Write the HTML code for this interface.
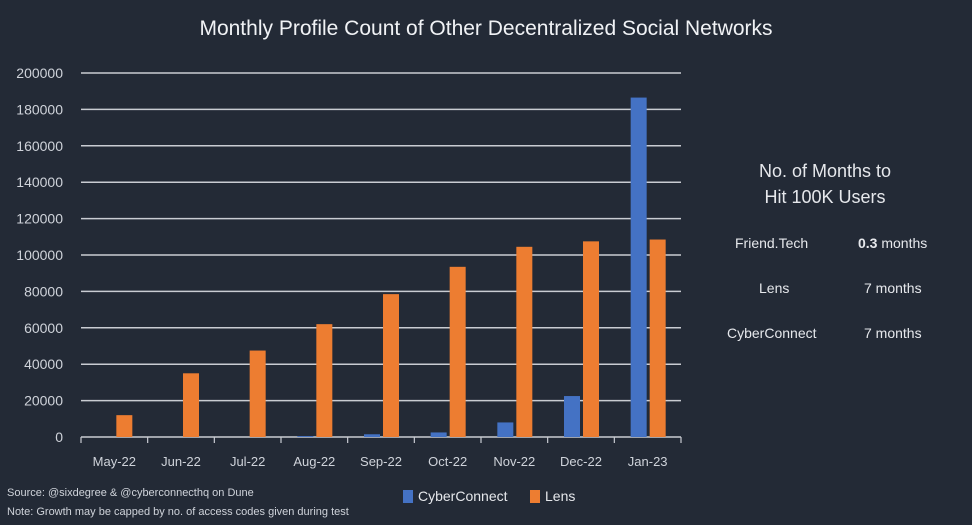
<!DOCTYPE html>
<html><head><meta charset="utf-8"><style>
html,body{margin:0;padding:0;background:#232a36;}
body{width:972px;height:525px;overflow:hidden;font-family:"Liberation Sans",sans-serif;color:#e6e8ec;position:relative}
.t{position:absolute;white-space:nowrap}
</style></head><body>
<div class="t" style="left:0;width:972px;text-align:center;top:17px;font-size:21px;color:#f0f2f5">Monthly Profile Count of Other Decentralized Social Networks</div>
<svg id="chart" width="972" height="525" style="position:absolute;left:0;top:0"></svg>
<div class="t" style="left:700px;width:250px;text-align:center;top:158px;font-size:18px;line-height:26px">No. of Months to<br>Hit 100K Users</div>
<div class="t" style="left:735px;top:235px;font-size:14px">Friend.Tech</div>
<div class="t" style="left:858px;top:235px;font-size:14px"><b>0.3</b> months</div>
<div class="t" style="left:759px;top:280px;font-size:14px">Lens</div>
<div class="t" style="left:864px;top:280px;font-size:14px">7 months</div>
<div class="t" style="left:727px;top:325px;font-size:14px">CyberConnect</div>
<div class="t" style="left:864px;top:325px;font-size:14px">7 months</div>
<div class="t" style="left:7px;top:487px;font-size:11px;color:#cfd3da">Source: @sixdegree &amp; @cyberconnecthq on Dune</div>
<div class="t" style="left:7px;top:506px;font-size:11px;color:#cfd3da">Note: Growth may be capped by no. of access codes given during test</div>
<div class="t" style="left:403px;top:488px;font-size:14px"><span style="display:inline-block;width:10px;height:13px;background:#4472c4;vertical-align:-2px;margin-right:5px"></span>CyberConnect</div>
<div class="t" style="left:530px;top:488px;font-size:14px"><span style="display:inline-block;width:10px;height:13px;background:#ed7d31;vertical-align:-2px;margin-right:5px"></span>Lens</div>
<script>
const categories=["May-22","Jun-22","Jul-22","Aug-22","Sep-22","Oct-22","Nov-22","Dec-22","Jan-23"];
const cyberValues=[0,0,0,500,1500,2500,8000,22500,186500];
const lensValues=[12000,35000,47500,62000,78500,93500,104500,107500,108500];
const yTicks=[0,20000,40000,60000,80000,100000,120000,140000,160000,180000,200000];
const NS="http://www.w3.org/2000/svg";
const svg=document.getElementById('chart');
const x0=81,x1=681,y0=437,yTop=73,yMax=200000;
const bw=(x1-x0)/categories.length;
const y=v=>y0-(v/yMax)*(y0-yTop);
function mk(tag,attrs){const e=document.createElementNS(NS,tag);for(const k in attrs)e.setAttribute(k,attrs[k]);svg.appendChild(e);return e;}
yTicks.forEach(v=>{
  if(v>0){const g=mk('line',{x1:x0,x2:x1,y1:y(v),y2:y(v),stroke:'#c9ccd2','stroke-width':1.5});
  
  }
  const t=mk('text',{x:63,y:y(v)+5,'text-anchor':'end','font-size':14,fill:'#cfd3da','font-family':'Liberation Sans, sans-serif'});
  t.textContent=v;
  
  
});
const ax=mk('line',{x1:x0,x2:x1,y1:y0,y2:y0,stroke:'#c9ccd2','stroke-width':1.5});


for(let i=0;i<=categories.length;i++){
  const tk=mk('line',{x1:x0+i*bw,x2:x0+i*bw,y1:y0,y2:y0+6,stroke:'#c9ccd2','stroke-width':1.2});
  
  
}
categories.forEach((c,i)=>{
  const cx=x0+bw*(i+0.5);
  const b=mk('rect',{x:cx-17,y:y(cyberValues[i]),width:16,height:y0-y(cyberValues[i]),fill:'#4472c4'});
  
  
  const o=mk('rect',{x:cx+2,y:y(lensValues[i]),width:16,height:y0-y(lensValues[i]),fill:'#ed7d31'});
  
  
  const t=mk('text',{x:cx,y:466,'text-anchor':'middle','font-size':13,fill:'#cfd3da','font-family':'Liberation Sans, sans-serif'});
  t.textContent=c;
  
  
});
</script>
</body></html>
